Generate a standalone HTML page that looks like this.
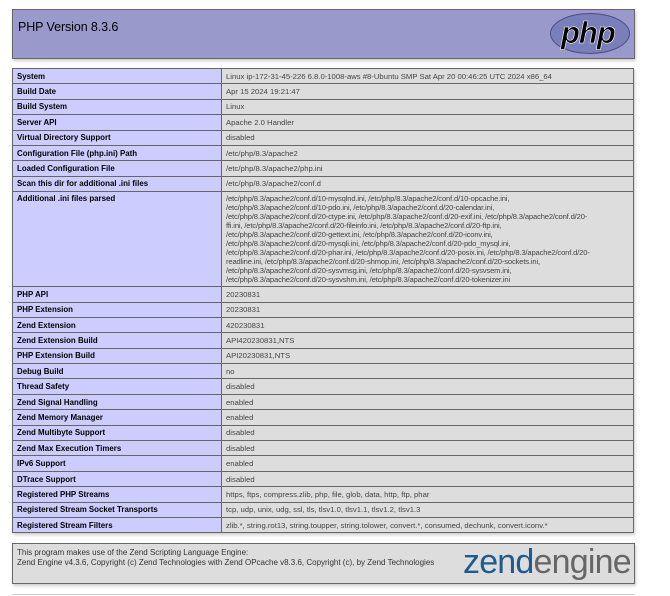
<!DOCTYPE html>
<html><head><meta charset="utf-8">
<style>
html,body{margin:0;padding:0;background:#fff;}
body{width:670px;height:596px;overflow:hidden;position:relative;font-family:"Liberation Sans",Arial,sans-serif;color:#222;}
.hdr{position:absolute;left:12px;top:9px;width:621px;height:48px;background:#9999cc;border:1px solid #666;box-shadow:1px 2px 3px #ccc;}
.hdr h1{margin:0;position:absolute;left:5px;top:10px;font-size:12.5px;font-weight:normal;color:#000;letter-spacing:-0.1px;}
.logo{position:absolute;left:537px;top:3px;width:80px;height:41px;border-radius:50%;background:#7a7fbb;border:1px solid #4a4e80;box-sizing:border-box;}
.logo span{position:absolute;left:10px;top:0px;font-size:31px;font-weight:bold;font-style:italic;color:#000;letter-spacing:-1px;-webkit-text-stroke:0.6px #fff;line-height:38px;}
table{position:absolute;left:12px;top:68px;width:622px;border-collapse:collapse;box-shadow:1px 2px 3px #ccc;table-layout:fixed;}
tr{height:15.4px;}
td{border:1px solid #666;font-size:7.9px;vertical-align:middle;padding:0 4px;line-height:9px;}
td.e{background:#ccccff;font-weight:bold;color:#000;width:200px;}
td.v{background:#ddd;color:#444;font-size:7.7px;}
tr.multi{height:95px;}
tr.multi td{vertical-align:top;padding-top:2px;}
.ml div{line-height:9px;font-size:7.6px;letter-spacing:-0.15px;white-space:nowrap;height:9px;}
.foot{position:absolute;left:12px;top:543px;width:621px;height:39px;background:#ddd;border:1px solid #666;box-shadow:1px 2px 3px #ccc;}
.foot p{margin:0;position:absolute;left:4px;top:4px;font-size:8px;line-height:9.5px;color:#333;}
.zend{position:absolute;left:450px;top:-2px;font-size:34px;line-height:40px;letter-spacing:-0.8px;}
.zend b{color:#1d5b8e;font-weight:normal;}
.zend i{color:#666;font-style:normal;}
.hr{position:absolute;left:12px;top:594px;width:622px;height:1px;background:#ccc;}
</style></head><body>
<div class="hdr">
<h1>PHP Version 8.3.6</h1>
<div class="logo"><span>php</span></div>
</div>
<table>
<tr><td class="e">System</td><td class="v">Linux ip-172-31-45-226 6.8.0-1008-aws #8-Ubuntu SMP Sat Apr 20 00:46:25 UTC 2024 x86_64</td></tr>
<tr><td class="e">Build Date</td><td class="v">Apr 15 2024 19:21:47</td></tr>
<tr><td class="e">Build System</td><td class="v">Linux</td></tr>
<tr><td class="e">Server API</td><td class="v">Apache 2.0 Handler</td></tr>
<tr><td class="e">Virtual Directory Support</td><td class="v">disabled</td></tr>
<tr><td class="e">Configuration File (php.ini) Path</td><td class="v">/etc/php/8.3/apache2</td></tr>
<tr><td class="e">Loaded Configuration File</td><td class="v">/etc/php/8.3/apache2/php.ini</td></tr>
<tr><td class="e">Scan this dir for additional .ini files</td><td class="v">/etc/php/8.3/apache2/conf.d</td></tr>
<tr class="multi"><td class="e">Additional .ini files parsed</td><td class="v ml"><div>/etc/php/8.3/apache2/conf.d/10-mysqlnd.ini, /etc/php/8.3/apache2/conf.d/10-opcache.ini,</div><div>/etc/php/8.3/apache2/conf.d/10-pdo.ini, /etc/php/8.3/apache2/conf.d/20-calendar.ini,</div><div>/etc/php/8.3/apache2/conf.d/20-ctype.ini, /etc/php/8.3/apache2/conf.d/20-exif.ini, /etc/php/8.3/apache2/conf.d/20-</div><div>ffi.ini, /etc/php/8.3/apache2/conf.d/20-fileinfo.ini, /etc/php/8.3/apache2/conf.d/20-ftp.ini,</div><div>/etc/php/8.3/apache2/conf.d/20-gettext.ini, /etc/php/8.3/apache2/conf.d/20-iconv.ini,</div><div>/etc/php/8.3/apache2/conf.d/20-mysqli.ini, /etc/php/8.3/apache2/conf.d/20-pdo_mysql.ini,</div><div>/etc/php/8.3/apache2/conf.d/20-phar.ini, /etc/php/8.3/apache2/conf.d/20-posix.ini, /etc/php/8.3/apache2/conf.d/20-</div><div>readline.ini, /etc/php/8.3/apache2/conf.d/20-shmop.ini, /etc/php/8.3/apache2/conf.d/20-sockets.ini,</div><div>/etc/php/8.3/apache2/conf.d/20-sysvmsg.ini, /etc/php/8.3/apache2/conf.d/20-sysvsem.ini,</div><div>/etc/php/8.3/apache2/conf.d/20-sysvshm.ini, /etc/php/8.3/apache2/conf.d/20-tokenizer.ini</div></td></tr>
<tr><td class="e">PHP API</td><td class="v">20230831</td></tr>
<tr><td class="e">PHP Extension</td><td class="v">20230831</td></tr>
<tr><td class="e">Zend Extension</td><td class="v">420230831</td></tr>
<tr><td class="e">Zend Extension Build</td><td class="v">API420230831,NTS</td></tr>
<tr><td class="e">PHP Extension Build</td><td class="v">API20230831,NTS</td></tr>
<tr><td class="e">Debug Build</td><td class="v">no</td></tr>
<tr><td class="e">Thread Safety</td><td class="v">disabled</td></tr>
<tr><td class="e">Zend Signal Handling</td><td class="v">enabled</td></tr>
<tr><td class="e">Zend Memory Manager</td><td class="v">enabled</td></tr>
<tr><td class="e">Zend Multibyte Support</td><td class="v">disabled</td></tr>
<tr><td class="e">Zend Max Execution Timers</td><td class="v">disabled</td></tr>
<tr><td class="e">IPv6 Support</td><td class="v">enabled</td></tr>
<tr><td class="e">DTrace Support</td><td class="v">disabled</td></tr>
<tr><td class="e">Registered PHP Streams</td><td class="v">https, ftps, compress.zlib, php, file, glob, data, http, ftp, phar</td></tr>
<tr><td class="e">Registered Stream Socket Transports</td><td class="v">tcp, udp, unix, udg, ssl, tls, tlsv1.0, tlsv1.1, tlsv1.2, tlsv1.3</td></tr>
<tr><td class="e">Registered Stream Filters</td><td class="v">zlib.*, string.rot13, string.toupper, string.tolower, convert.*, consumed, dechunk, convert.iconv.*</td></tr>
</table>
<div class="foot">
<p>This program makes use of the Zend Scripting Language Engine:<br>Zend Engine v4.3.6, Copyright (c) Zend Technologies with Zend OPcache v8.3.6, Copyright (c), by Zend Technologies</p>
<div class="zend"><b>zend</b><i>engine</i></div>
</div>
<div class="hr"></div>
</body></html>
